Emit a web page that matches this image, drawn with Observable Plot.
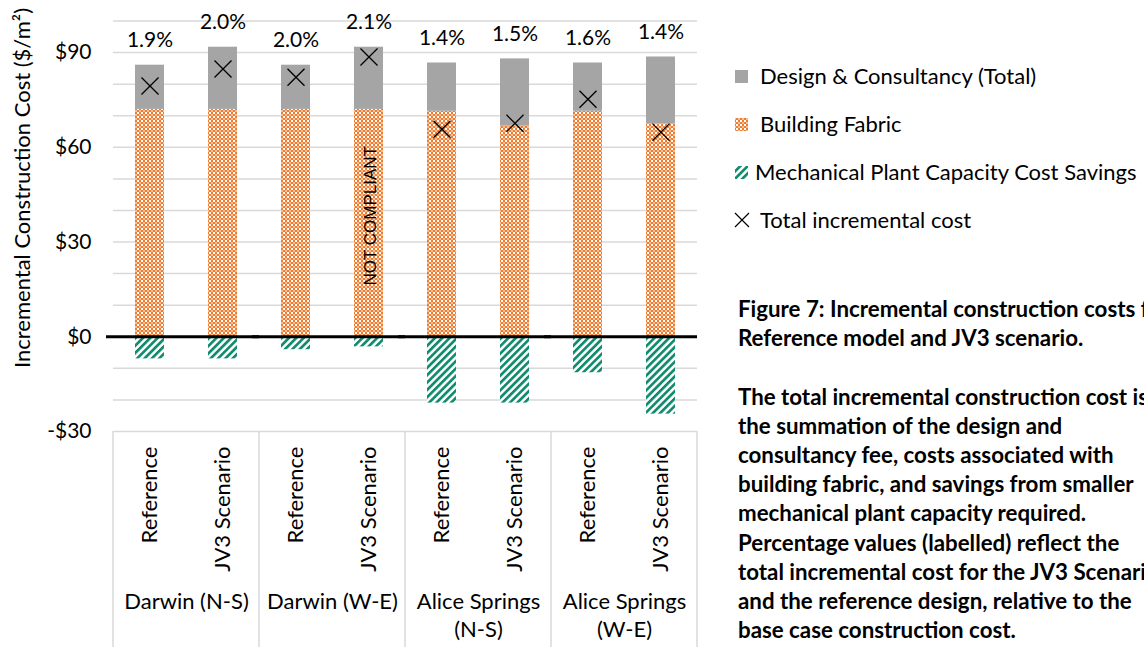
<!DOCTYPE html>
<html>
<head>
<meta charset="utf-8">
<script src="https://cdn.jsdelivr.net/npm/d3@7"></script>
<script src="https://cdn.jsdelivr.net/npm/@observablehq/plot@0.6"></script>
<style>
  html, body { margin: 0; padding: 0; }
  body { width: 1144px; height: 647px; overflow: hidden; background: #fff; position: relative;
         font-family: Lato, "Open Sans", sans-serif; color: #000; }
  #chart { position: absolute; left: 0; top: 0; }
  .li { position: absolute; white-space: nowrap; font-size: 22px; line-height: 26px; }
  .sw { position: absolute; }
  #caption { position: absolute; left: 738px; top: 294px; font-weight: bold; font-size: 22.3px;
             line-height: 29.2px; white-space: pre; }
</style>
</head>
<body>
<div id="chart"></div>
<div id="legend"></div>
<div id="caption"></div>
<script>
// ---------- data ----------
const groupLabels = ["Darwin (N-S)", "Darwin (W-E)", "Alice Springs\n(N-S)", "Alice Springs\n(W-E)"];
const scenarios = ["Reference", "JV3 Scenario"];
const seriesNames = ["Building Fabric", "Design & Consultancy (Total)", "Mechanical Plant Capacity Cost Savings"];
// order: Darwin N-S Ref, JV3, Darwin W-E Ref, JV3, Alice N-S Ref, JV3, Alice W-E Ref, JV3
const fabric     = [72.0, 72.0, 72.0, 72.0, 71.4, 66.7, 71.4, 67.4];
const design     = [14.0, 19.7, 14.0, 19.7, 15.3, 21.3, 15.3, 21.2];
const mechanical = [-7.0, -7.0, -4.1, -3.2, -21.0, -21.0, -11.4, -24.5];
const totalCost  = [79.4, 84.8, 82.2, 88.6, 65.7, 67.6, 75.2, 64.8];
const pctLabels  = ["1.9%", "2.0%", "2.0%", "2.1%", "1.4%", "1.5%", "1.6%", "1.4%"];
const noteLabel  = {group: "Darwin (W-E)", scenario: "JV3 Scenario", value: 38.3, text: "NOT COMPLIANT"};
const yTicks     = [-30, 0, 30, 60, 90];
const gridTicks  = [-30, -20, -10, 0, 10, 20, 30, 40, 50, 60, 70, 80, 90, 100];
const yTitle     = "Incremental Construction Cost ($/m²)";
const legendLabels = ["Design & Consultancy (Total)", "Building Fabric", "Mechanical Plant Capacity Cost Savings", "Total incremental cost"];
const captionLines = [
  "Figure 7: Incremental construction costs for the",
  "Reference model and JV3 scenario.",
  "",
  "The total incremental construction cost is",
  "the summation of the design and",
  "consultancy fee, costs associated with",
  "building fabric, and savings from smaller",
  "mechanical plant capacity required.",
  "Percentage values (labelled) reflect the",
  "total incremental cost for the JV3 Scenario",
  "and the reference design, relative to the",
  "base case construction cost."
];

// ---------- tables built from the arrays ----------
const cases = [];
groupLabels.forEach((g, gi) => scenarios.forEach((s, si) => cases.push({group: g, scenario: s, i: gi * 2 + si})));
const values = {"Building Fabric": fabric, "Design & Consultancy (Total)": design, "Mechanical Plant Capacity Cost Savings": mechanical};
const rows = cases.flatMap(c => seriesNames.map(sn => ({group: c.group, scenario: c.scenario, series: sn, value: values[sn][c.i]})));

const fills = {"Building Fabric": "url(#pat-fabric)", "Design & Consultancy (Total)": "#A5A5A5", "Mechanical Plant Capacity Cost Savings": "url(#pat-mech)"};

const chart = Plot.plot({
  width: 720, height: 647,
  marginLeft: 112, marginRight: 22, marginTop: 20.5, marginBottom: 216,
  style: {fontFamily: "Lato, 'Open Sans', sans-serif", fontSize: "21px", color: "#000", background: "transparent", overflow: "visible"},
  fx: {domain: groupLabels, padding: 0},
  x: {domain: scenarios, paddingInner: 0.6, paddingOuter: 0.3},
  y: {domain: [-30, 100]},
  marks: [
    Plot.gridY(gridTicks, {stroke: "#d9d9d9", strokeOpacity: 1, strokeWidth: 1.5}),
    Plot.axisY(yTicks, {tickSize: 0, tickPadding: 22, fontSize: 21, label: null,
      tickFormat: d => (d < 0 ? "-$" : "$") + Math.abs(d)}),
    Plot.axisX({tickSize: 0, tickRotate: -90, tickPadding: 15, fontSize: 22, label: null}),
    Plot.axisFx({anchor: "bottom", tickSize: 0, tickPadding: 158, fontSize: 22, lineHeight: 1.27, label: null}),
    Plot.barY(rows, {fx: "group", x: "scenario", y: "value", z: "series", order: seriesNames,
      fill: d => fills[d.series]}),
    Plot.ruleY([0], {stroke: "#000", strokeWidth: 3, insetLeft: -7}),
    Plot.dot(cases, {fx: "group", x: "scenario", y: d => totalCost[d.i], symbol: "times", r: 7.8,
      stroke: "#000", strokeWidth: 1.3}),
    Plot.text(cases, {fx: "group", x: "scenario", y: d => fabric[d.i] + design[d.i], text: d => pctLabels[d.i],
      dy: -25, fontSize: 21, fill: "#000"}),
    Plot.text([noteLabel], {fx: "group", x: "scenario", y: "value", text: "text", rotate: -90, dx: 2,
      fontFamily: "'Liberation Sans', Arial, sans-serif", fontSize: 17, fill: "#000"})
  ]
});

function addPatterns(defs, prefix) {
  const f = defs.append("pattern").attr("id", prefix + "fabric").attr("patternUnits", "userSpaceOnUse")
    .attr("width", 4).attr("height", 4);
  f.append("rect").attr("width", 4).attr("height", 4).attr("fill", "#ED7D31");
  f.append("rect").attr("x", 0).attr("y", 0).attr("width", 2).attr("height", 2).attr("fill", "#ffffff");
  f.append("rect").attr("x", 2).attr("y", 2).attr("width", 2).attr("height", 2).attr("fill", "#f7bf96");
  const m = defs.append("pattern").attr("id", prefix + "mech").attr("patternUnits", "userSpaceOnUse")
    .attr("width", 5.2).attr("height", 5.2).attr("patternTransform", "rotate(45)");
  m.append("rect").attr("width", 5.2).attr("height", 5.2).attr("fill", "#fff");
  m.append("rect").attr("width", 2.7).attr("height", 5.2).attr("fill", "#138B6E");
}

const svg = d3.select(chart);
addPatterns(svg.insert("defs", ":first-child"), "pat-");

// category table separators from the facet scale
const fxs = chart.scale("fx"), ys = chart.scale("y");
const yTop = ys.apply(-30);
const edges = groupLabels.map(g => fxs.apply(g));
edges.push(fxs.apply(groupLabels[groupLabels.length - 1]) + fxs.bandwidth);
svg.append("g").selectAll("line").data(edges).join("line")
  .attr("x1", d => d).attr("x2", d => d).attr("y1", yTop).attr("y2", 647)
  .attr("stroke", "#d9d9d9").attr("stroke-width", 1.5);

// y-axis title
svg.append("text").attr("transform", "translate(22,188) rotate(-90)")
  .attr("text-anchor", "middle").attr("dy", "0.35em").style("font-size", "22px").text(yTitle);

document.getElementById("chart").appendChild(chart);

// ---------- legend ----------
const legend = d3.select("#legend");
const legTop = [76, 124, 172, 220];
const textX = [760, 760, 755, 760];
legendLabels.forEach((lab, i) => {
  legend.append("div").attr("class", "li").style("left", textX[i] + "px").style("top", (legTop[i] - 13) + "px").text(lab);
});
const lsvg = legend.append("svg").attr("class", "sw").style("left", "0px").style("top", "0px")
  .attr("width", 760).attr("height", 240).style("position", "absolute").style("pointer-events", "none");
addPatterns(lsvg.append("defs"), "lg-");
lsvg.append("rect").attr("x", 735).attr("y", legTop[0] - 6).attr("width", 13).attr("height", 13).attr("fill", "#A5A5A5");
lsvg.append("rect").attr("x", 735).attr("y", legTop[1] - 6).attr("width", 13).attr("height", 13).attr("fill", "url(#lg-fabric)");
lsvg.append("rect").attr("x", 735).attr("y", legTop[2] - 6).attr("width", 13).attr("height", 13).attr("fill", "url(#lg-mech)");
lsvg.append("path").attr("d", `M735,${legTop[3] - 7}L749,${legTop[3] + 7}M735,${legTop[3] + 7}L749,${legTop[3] - 7}`)
  .attr("stroke", "#000").attr("stroke-width", 1.2);

// ---------- caption ----------
document.getElementById("caption").textContent = captionLines.join("\n");
</script>
</body>
</html>
